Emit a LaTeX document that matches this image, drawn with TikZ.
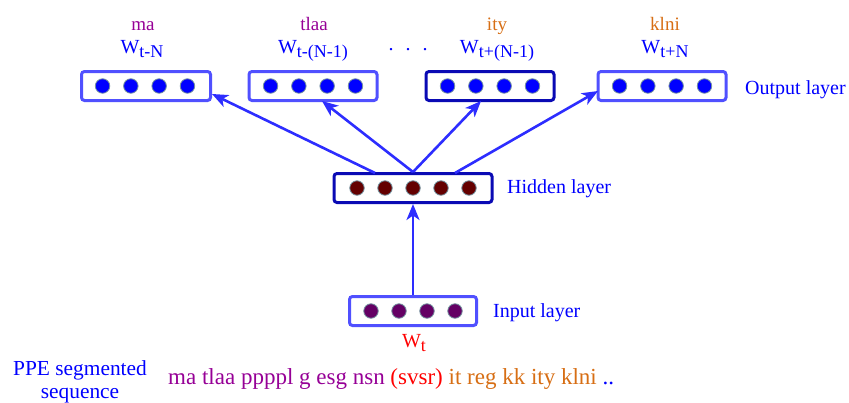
\documentclass[tikz,border=0pt]{standalone}
\usepackage{fontspec}
\setmainfont{Liberation Serif}
\usetikzlibrary{arrows.meta}
\definecolor{boxlight}{RGB}{80,80,255}
\definecolor{boxdark}{RGB}{10,10,180}
\definecolor{dotblue}{RGB}{0,0,255}
\definecolor{dotred}{RGB}{100,0,0}
\definecolor{dotpurple}{RGB}{100,0,100}
\definecolor{txtpurple}{RGB}{150,0,150}
\definecolor{txtorange}{RGB}{215,110,20}
\definecolor{txtblue}{RGB}{0,0,255}
\definecolor{txtred}{RGB}{255,0,0}
\definecolor{arrowblue}{RGB}{45,45,255}
\tikzset{
  layerbox/.style={draw=boxlight, line width=3pt, rounded corners=3pt, fill=white, minimum height=29pt, inner sep=0pt},
  darkbox/.style={layerbox, draw=boxdark},
  unit/.style={circle, minimum size=14.5pt, inner sep=0pt, draw=black!30!cyan!40!gray, line width=0.8pt},
  lbl/.style={font=\fontsize{20}{24}\selectfont, text=txtblue, anchor=base west, inner sep=0pt},
  wlbl/.style={font=\fontsize{20}{24}\selectfont, text=txtblue, inner sep=0pt, anchor=base},
  wordlbl/.style={font=\fontsize{19}{22}\selectfont, inner sep=0pt, anchor=base},
  conn/.style={draw=arrowblue, line width=2.6pt, -{Stealth[length=16pt,width=13pt,inset=4.5pt]}}
}
\newcommand{\subw}[1]{W\raisebox{-4.5pt}{\fontsize{18}{20}\selectfont #1}}
\begin{document}
\begin{tikzpicture}[x=1pt,y=-1pt]
\useasboundingbox (0,0) rectangle (849,402);
% output boxes
\node[layerbox, minimum width=129pt] (o1) at (146,86) {};
\node[layerbox, minimum width=128pt] (o2) at (313,86) {};
\node[darkbox, minimum width=128pt] (o3) at (490,86) {};
\node[layerbox, minimum width=128pt] (o4) at (662,86) {};
\foreach \c in {145,313,490,662}{
  \foreach \i in {-1.5,-0.5,0.5,1.5}{
    \node[unit, fill=dotblue] at (\c+\i*28.3,86) {};
  }
}
% hidden
\node[darkbox, minimum width=158pt] (h) at (413,188) {};
\foreach \i in {-2,-1,0,1,2}{
  \node[unit, fill=dotred] at (413+\i*28,188) {};
}
% input
\node[layerbox, minimum width=127pt] (in) at (413,311) {};
\foreach \i in {-1.5,-0.5,0.5,1.5}{
  \node[unit, fill=dotpurple] at (413+\i*28,311) {};
}
% layer labels
\node[lbl] (lo) at (745,94) {Output layer};
\node[lbl] (lh) at (507,193) {Hidden layer};
\node[lbl] (li) at (493,317) {Input layer};
\node[wlbl, text=txtred] (wt) at (414,347) {\subw{t}};
% words above output
\node[wordlbl, text=txtpurple] (w1) at (143,30) {ma};
\node[wordlbl, text=txtpurple] (w2) at (314,30) {tlaa};
\node[wordlbl, text=txtorange] (w3) at (497,30) {ity};
\node[wordlbl, text=txtorange] (w4) at (665,30) {klni};
\node[wlbl] (t1) at (142,53) {\subw{t-N}};
\node[wlbl] (t2) at (313,53) {\subw{t-(N-1)}};
\node[wlbl] (t3) at (497,53) {\subw{t+(N-1)}};
\node[wlbl] (t4) at (665,53) {\subw{t+N}};
\node[wlbl] (dots) at (408,50) {.\hspace{12pt}.\hspace{12pt}.};
% connectors
\coordinate (hs1) at (375,173);
\coordinate (hs2) at (413,172);
\coordinate (hs3) at (455,173);
\coordinate (oe1) at (212,94);
\coordinate (oe2) at (322,101);
\coordinate (oe3) at (481,101);
\coordinate (oe4) at (598,91);
\draw[conn] (hs1) -- (oe1);
\draw[conn] (hs2) -- (oe2);
\draw[conn] (hs2) -- (oe3);
\draw[conn] (hs3) -- (oe4);
\draw[conn] (in.north) -- (h.south);
% bottom text
\node[inner sep=0pt, anchor=base, text=txtblue, font=\fontsize{21.4}{22}\selectfont] (ppe1) at (80,375) {PPE segmented};
\node[inner sep=0pt, anchor=base, text=txtblue, font=\fontsize{21.4}{22}\selectfont] (ppe2) at (80,398) {sequence};
\node[inner sep=0pt, anchor=base west, font=\fontsize{23}{26}\selectfont] (seq) at (168,384) {\textcolor{txtpurple}{ma tlaa ppppl g esg nsn} \textcolor{txtred}{(svsr)} \textcolor{txtorange}{it reg kk ity klni} \textcolor{txtblue}{..}};
\end{tikzpicture}
\end{document}
